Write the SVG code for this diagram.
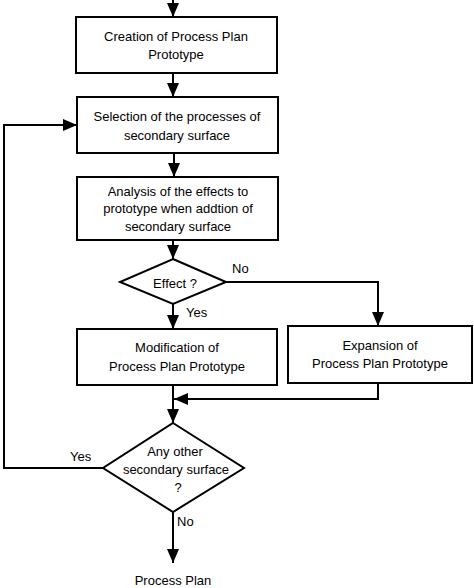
<svg xmlns="http://www.w3.org/2000/svg" width="474" height="588" viewBox="0 0 474 588">
<defs>
<marker id="ah" viewBox="0 0 14 12" refX="14" refY="6" markerWidth="14" markerHeight="12" markerUnits="userSpaceOnUse" orient="auto">
<path d="M0,0 L14,6 L0,12 Z" fill="#000"/>
</marker>
<style>
.box{fill:#fff;stroke:#000;stroke-width:2}
.ln{fill:none;stroke:#000;stroke-width:2}
.ar{fill:none;stroke:#000;stroke-width:2;marker-end:url(#ah)}
text{font-family:"Liberation Sans",Arial,sans-serif;font-size:13px;fill:#000}
.c{text-anchor:middle}
</style>
</defs>
<rect width="474" height="588" fill="#fff"/>
<g id="connectors">
<line class="ar" x1="173" y1="0" x2="173" y2="17"/>
<line class="ar" x1="173" y1="73" x2="173" y2="97"/>
<line class="ar" x1="174" y1="153" x2="174" y2="177"/>
<line class="ar" x1="173" y1="240" x2="173" y2="259"/>
<line class="ar" x1="173" y1="304" x2="173" y2="329"/>
<polyline class="ar" points="226,282 378,282 378,326"/>
<polyline class="ar" points="378,383 378,399 174,399"/>
<line class="ar" x1="173" y1="385" x2="173" y2="423"/>
<polyline class="ar" points="103,468 4,468 4,125 77,125"/>
<line class="ar" x1="173" y1="512" x2="173" y2="563"/>
<text x="186" y="317">Yes</text>
<text x="232" y="273">No</text>
<text x="70" y="461">Yes</text>
<text x="177" y="526">No</text>
</g>
<g id="creation">
<rect class="box" x="76" y="17" width="201" height="56"/>
<text class="c" x="176" y="41">Creation of Process Plan</text>
<text class="c" x="176" y="59">Prototype</text>
</g>
<g id="selection">
<rect class="box" x="77" y="97" width="201" height="56"/>
<text class="c" x="177" y="121">Selection of the processes of</text>
<text class="c" x="177" y="140">secondary surface</text>
</g>
<g id="analysis">
<rect class="box" x="77" y="177" width="201" height="63"/>
<text class="c" x="178" y="196">Analysis of the effects to</text>
<text class="c" x="178" y="213">prototype when addtion of</text>
<text class="c" x="178" y="231">secondary surface</text>
</g>
<g id="effect">
<polygon class="box" points="173,259 226,282 173,304 120,282"/>
<text class="c" x="175" y="288">Effect ?</text>
</g>
<g id="modification">
<rect class="box" x="77" y="329" width="200" height="56"/>
<text class="c" x="177" y="352">Modification of</text>
<text class="c" x="177" y="371">Process Plan Prototype</text>
</g>
<g id="expansion">
<rect class="box" x="288" y="326" width="184" height="57"/>
<text class="c" x="380" y="350">Expansion of</text>
<text class="c" x="380" y="368">Process Plan Prototype</text>
</g>
<g id="anyother">
<polygon class="box" points="173,423 244,468 173,512 103,468"/>
<text class="c" x="175" y="456">Any other</text>
<text class="c" x="176" y="474">secondary surface</text>
<text class="c" x="178" y="492">?</text>
</g>
<g id="processplan">
<text class="c" x="173" y="585">Process Plan</text>
</g>
</svg>
